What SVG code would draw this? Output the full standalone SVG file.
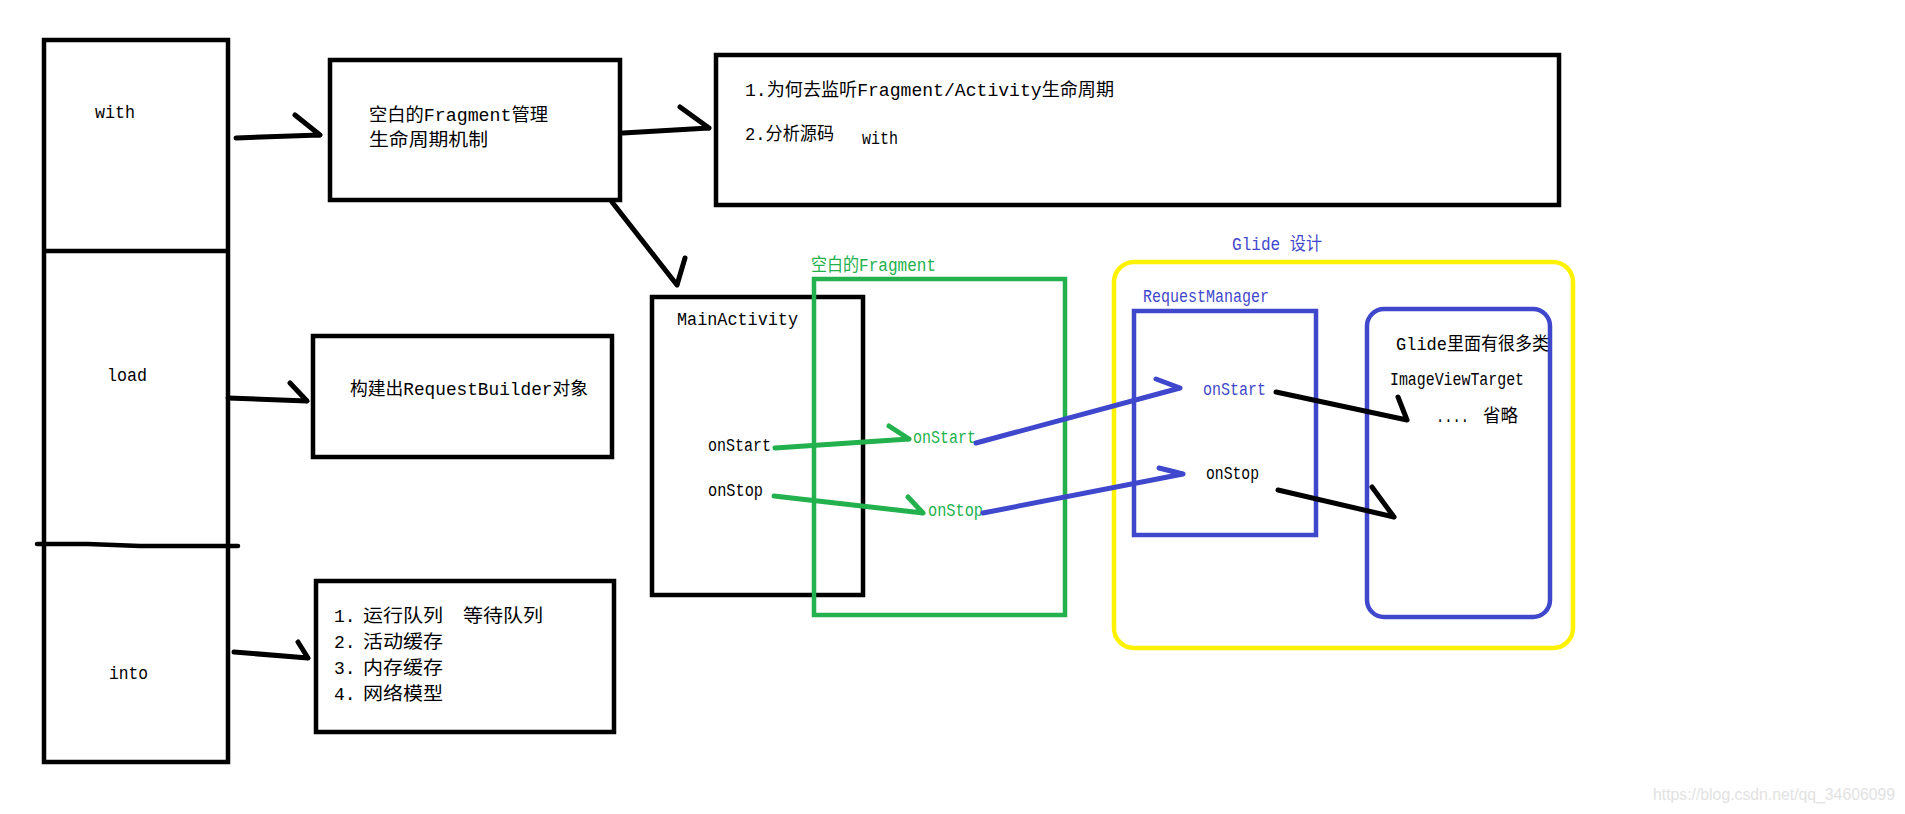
<svg xmlns="http://www.w3.org/2000/svg" width="1905" height="814" viewBox="0 0 1905 814">
<style>
.box{fill:none;stroke:#000;stroke-width:4.5}
.gbox{fill:none;stroke:#22B14C;stroke-width:4.5}
.bbox{fill:none;stroke:#3F48CC;stroke-width:4.5}
.ybox{fill:none;stroke:#FFF200;stroke-width:4.5}
.t{font-family:"Liberation Mono","Noto Sans CJK SC",monospace;font-size:18px;fill:#000}
.tg{fill:#22B14C}
.tb{fill:#3F48CC}
.wm{font-family:"Liberation Sans","Noto Sans",sans-serif;font-size:16px;fill:#e2e2e2}
.ln{fill:none;stroke-linecap:round;stroke-linejoin:round;stroke-width:5}
.k{stroke:#000}
.gr{stroke:#22B14C}
.bl{stroke:#3F48CC}
</style>
<rect x="0" y="0" width="1905" height="814" fill="#fff"/>

<g id="api-column">
  <rect class="box" x="44" y="40" width="184" height="722"/>
  <line x1="44" y1="251" x2="228" y2="251" stroke="#000" stroke-width="4.5"/>
  <path d="M37,544 L88,544 L140,546 L238,546" fill="none" stroke="#000" stroke-width="4.5" stroke-linecap="round"/>
  <text class="t" x="95" y="118" textLength="40" lengthAdjust="spacingAndGlyphs">with</text>
  <text class="t" x="107" y="381" textLength="40" lengthAdjust="spacingAndGlyphs">load</text>
  <text class="t" x="109" y="679" textLength="39" lengthAdjust="spacingAndGlyphs">into</text>
</g>

<g id="fragment-manager">
  <rect class="box" x="330" y="60" width="290" height="140"/>
  <text class="t" x="369" y="121" textLength="179" lengthAdjust="spacingAndGlyphs">空白的Fragment管理</text>
  <text class="t" x="369" y="146" textLength="119" lengthAdjust="spacingAndGlyphs">生命周期机制</text>
</g>

<g id="notes">
  <rect class="box" x="716" y="55" width="843" height="150"/>
  <text class="t" x="745" y="96" textLength="369" lengthAdjust="spacingAndGlyphs">1.为何去监听Fragment/Activity生命周期</text>
  <text class="t" x="745" y="140" textLength="89" lengthAdjust="spacingAndGlyphs">2.分析源码</text>
  <text class="t" x="862" y="144" textLength="36" lengthAdjust="spacingAndGlyphs">with</text>
</g>

<g id="request-builder">
  <rect class="box" x="313" y="336" width="299" height="121"/>
  <text class="t" x="350" y="395" textLength="238" lengthAdjust="spacingAndGlyphs">构建出RequestBuilder对象</text>
</g>

<g id="into-list">
  <rect class="box" x="316" y="581" width="298" height="151"/>
  <text class="t" y="622"><tspan x="334">1.</tspan><tspan x="363" textLength="80" lengthAdjust="spacingAndGlyphs">运行队列</tspan><tspan x="463" textLength="80" lengthAdjust="spacingAndGlyphs">等待队列</tspan></text>
  <text class="t" y="648"><tspan x="334">2.</tspan><tspan x="363" textLength="80" lengthAdjust="spacingAndGlyphs">活动缓存</tspan></text>
  <text class="t" y="674"><tspan x="334">3.</tspan><tspan x="363" textLength="80" lengthAdjust="spacingAndGlyphs">内存缓存</tspan></text>
  <text class="t" y="700"><tspan x="334">4.</tspan><tspan x="363" textLength="80" lengthAdjust="spacingAndGlyphs">网络模型</tspan></text>
</g>

<g id="main-activity">
  <rect class="box" x="652" y="297" width="211" height="298"/>
  <text class="t" x="677" y="325" textLength="121" lengthAdjust="spacingAndGlyphs">MainActivity</text>
  <text class="t" x="708" y="451" textLength="63" lengthAdjust="spacingAndGlyphs">onStart</text>
  <text class="t" x="708" y="496" textLength="55" lengthAdjust="spacingAndGlyphs">onStop</text>
</g>

<g id="empty-fragment">
  <rect class="gbox" x="814" y="279" width="251" height="336"/>
  <text class="t tg" x="811" y="271" textLength="125" lengthAdjust="spacingAndGlyphs">空白的Fragment</text>
  <text class="t tg" x="913" y="443" textLength="63" lengthAdjust="spacingAndGlyphs">onStart</text>
  <text class="t tg" x="928" y="516" textLength="55" lengthAdjust="spacingAndGlyphs">onStop</text>
</g>

<g id="glide-design">
  <rect class="ybox" x="1114" y="262" width="459" height="386" rx="20" ry="20"/>
  <text class="t tb" x="1232" y="250" textLength="90" lengthAdjust="spacingAndGlyphs">Glide 设计</text>
</g>

<g id="request-manager">
  <rect class="bbox" x="1134" y="311" width="182" height="224"/>
  <text class="t tb" x="1143" y="302" textLength="126" lengthAdjust="spacingAndGlyphs">RequestManager</text>
  <text class="t tb" x="1203" y="395" textLength="63" lengthAdjust="spacingAndGlyphs">onStart</text>
  <text class="t" x="1206" y="479" textLength="53" lengthAdjust="spacingAndGlyphs">onStop</text>
</g>

<g id="glide-classes">
  <rect class="bbox" x="1367" y="309" width="183" height="308" rx="17" ry="17"/>
  <text class="t" x="1396" y="350" textLength="153" lengthAdjust="spacingAndGlyphs">Glide里面有很多类</text>
  <text class="t" x="1390" y="385" textLength="134" lengthAdjust="spacingAndGlyphs">ImageViewTarget</text>
  <text class="t" y="422"><tspan x="1436" textLength="33" lengthAdjust="spacingAndGlyphs">....</tspan><tspan x="1483" textLength="35" lengthAdjust="spacingAndGlyphs">省略</tspan></text>
</g>

<g id="connectors">
  <path class="ln k" d="M236,138 L320,135 M295,115 L320,135"/>
  <path class="ln k" d="M623,133 L709,128 M680,107 L709,128"/>
  <path class="ln k" stroke-width="4" d="M612,202 L677,285 M685,258 L677,285"/>
  <path class="ln k" d="M228,398 L307,401 M290,383 L307,401"/>
  <path class="ln k" d="M234,652 L308,658 M298,642 L308,658"/>
  <path class="ln gr" d="M775,448 L909,439 M889,426 L909,439"/>
  <path class="ln gr" d="M774,496 L923,513 M908,497 L923,513"/>
  <path class="ln bl" d="M976,443 L1180,388 M1156,379 L1180,388"/>
  <path class="ln bl" d="M983,513 L1183,474 M1159,468 L1183,474"/>
  <path class="ln k" d="M1276,392 L1407,420 M1398,397 L1407,420"/>
  <path class="ln k" d="M1278,490 L1394,517 M1372,487 L1394,517"/>
</g>

<text class="wm" x="1653" y="800" textLength="242" lengthAdjust="spacingAndGlyphs">https://blog.csdn.net/qq_34606099</text>
</svg>
